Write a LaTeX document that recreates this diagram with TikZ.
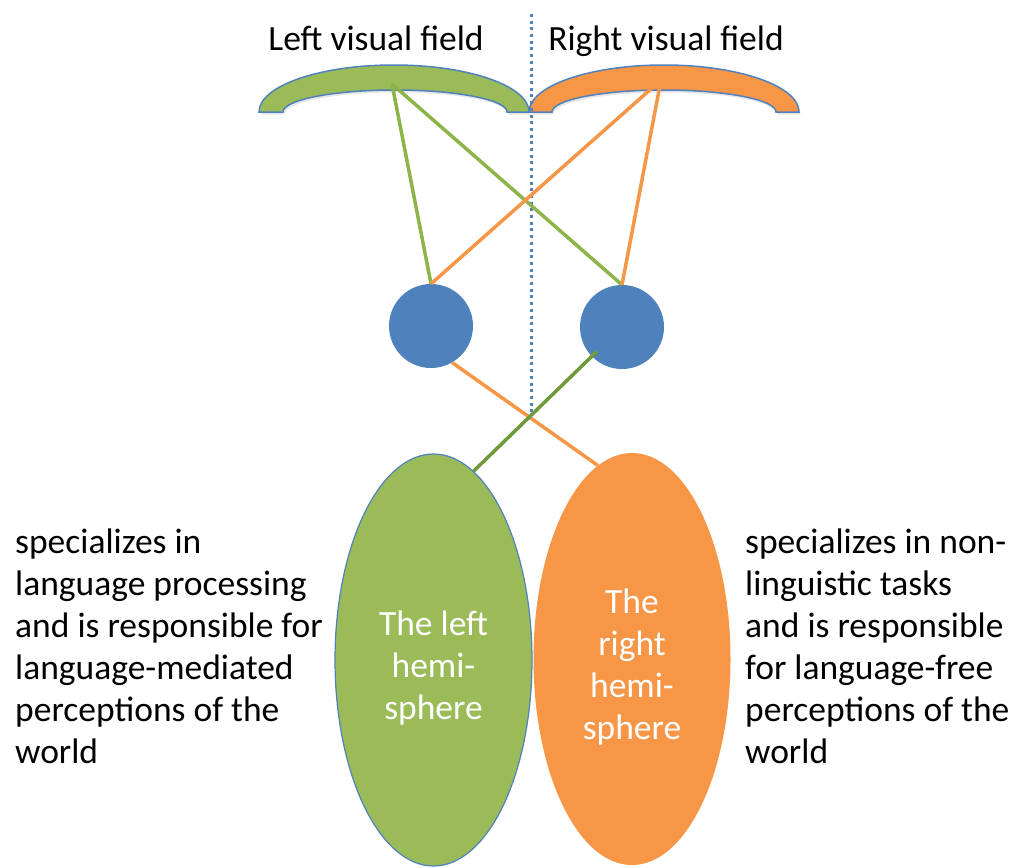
\documentclass[tikz,border=0pt]{standalone}
\usepackage{fontspec}
\setmainfont{Carlito}
\usetikzlibrary{shapes.geometric,shadows}
\definecolor{vgreen}{HTML}{9BBB59}
\definecolor{vorange}{HTML}{F79646}
\definecolor{vblue}{HTML}{4F81BD}
\definecolor{lgreen}{HTML}{8CB449}
\definecolor{dgreen}{HTML}{6E9A3A}
\begin{document}
\begin{tikzpicture}[x=1pt,y=-1pt,
  txt/.style={font=\fontsize{35.5}{42}\selectfont, inner sep=0pt, align=left},
  band/.style={draw=vblue, line width=1.5pt, drop shadow={opacity=0.2,shadow xshift=1.5pt,shadow yshift=-2.5pt}},
  eye/.style={circle, fill=vblue, minimum size=84pt, inner sep=0pt},
  hemi/.style={ellipse, minimum width=197pt, minimum height=412pt, inner sep=0pt, text=white, align=center, font=\fontsize{35.5}{42}\selectfont},
  gline/.style={draw=lgreen, line width=3.5pt},
  dgline/.style={draw=dgreen, line width=3.5pt},
  oline/.style={draw=vorange, line width=3.5pt},
  dotline/.style={draw=vblue, line width=3pt, dash pattern=on 3pt off 3.7pt},
]
\useasboundingbox (0,0) rectangle (1016,867);

% visual field bands
\path[band, fill=vgreen] (259,112) arc[start angle=180,end angle=360,x radius=135,y radius=47]
  -- (507,112) arc[start angle=0,end angle=-180,x radius=112,y radius=22] -- cycle;
\path[band, fill=vorange] (529,112) arc[start angle=180,end angle=360,x radius=135,y radius=47]
  -- (776,112) arc[start angle=0,end angle=-180,x radius=112,y radius=22] -- cycle;
\coordinate (lfp) at (392,84);
\coordinate (rfp) at (661,80);

% labels
\node[txt, anchor=base] (lvf) at (376,50) {Left visual field};
\node[txt, anchor=base] (rvf) at (666,50) {Right visual field};

% hemispheres
\node[hemi, fill=vorange] (rh) at (632,659) {\rule{0pt}{40pt}The\\right\\hemi-\\sphere};
\node[hemi, fill=vgreen, draw=vblue, line width=1.2pt] (lh) at (433.5,660) {\rule{0pt}{40pt}The left\\hemi-\\sphere};

% eyes
\node[eye] (le) at (431,326) {};
\node[eye] (re) at (622,327) {};

% midline
\coordinate (dtop) at (531,14);
\coordinate (dbot) at (531,415);
\draw[dotline] (dtop) -- (dbot);

% connectors
\draw[gline] (lfp) -- (le.north);
\draw[gline] (lfp) -- (re.north);
\draw[oline] (rfp) -- (le.north);
\draw[oline] (rfp) -- (re.north);
\draw[oline] (le.-60) -- (rh.100);
\draw[dgline, shorten <=35pt] (re.center) -- (lh.78);

% side texts
\node[txt, anchor=base west] (ltxt) at (15,763) {specializes in\\language processing\\and is responsible for\\language-mediated\\perceptions of the\\world};
\node[txt, anchor=base west] (rtxt) at (745,763) {specializes in non-\\linguistic tasks\\and is responsible\\for language-free\\perceptions of the\\world};
\end{tikzpicture}
\end{document}
